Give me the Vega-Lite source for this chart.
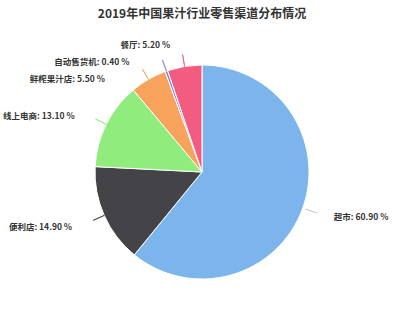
{
  "$schema": "https://vega.github.io/schema/vega-lite/v6.json",
  "width": 400,
  "height": 292,
  "autosize": "none",
  "padding": {"top": 26, "left": 2, "right": 0, "bottom": 0},
  "background": "white",
  "title": {
    "text": "2019年中国果汁行业零售渠道分布情况",
    "font": "Noto Sans CJK SC",
    "fontSize": 12,
    "fontWeight": "bold",
    "color": "#333333",
    "anchor": "middle",
    "frame": "group",
    "offset": 5
  },
  "data": {
    "values": [
      {"i": 1, "c": "超市", "v": 60.9, "label": "超市: 60.90 %"},
      {"i": 2, "c": "便利店", "v": 14.9, "label": "便利店: 14.90 %"},
      {"i": 3, "c": "线上电商", "v": 13.1, "label": "线上电商: 13.10 %"},
      {"i": 4, "c": "鲜榨果汁店", "v": 5.5, "label": "鲜榨果汁店: 5.50 %"},
      {"i": 5, "c": "自动售货机", "v": 0.4, "label": "自动售货机: 0.40 %"},
      {"i": 6, "c": "餐厅", "v": 5.2, "label": "餐厅: 5.20 %"}
    ]
  },
  "encoding": {
    "theta": {"field": "v", "type": "quantitative", "stack": true},
    "order": {"field": "i", "type": "ordinal"}
  },
  "layer": [
    {
      "mark": {"type": "arc", "outerRadius": 107, "stroke": "white", "strokeWidth": 1},
      "encoding": {
        "color": {
          "field": "c",
          "type": "nominal",
          "sort": null,
          "legend": null,
          "scale": {
            "domain": ["超市", "便利店", "线上电商", "鲜榨果汁店", "自动售货机", "餐厅"],
            "range": ["#7cb5ec", "#434348", "#90ed7d", "#f7a35c", "#8085e9", "#f15c80"]
          }
        }
      }
    },
    {
      "mark": {"type": "arc", "innerRadius": 107, "outerRadius": 119, "padAngle": 3.1416, "fill": "transparent", "strokeWidth": 1, "strokeOpacity": 0.8},
      "encoding": {
        "stroke": {
          "condition": {"test": "datum.c == '超市'", "value": "transparent"},
          "field": "c",
          "type": "nominal",
          "legend": null,
          "scale": {
            "domain": ["超市", "便利店", "线上电商", "鲜榨果汁店", "自动售货机", "餐厅"],
            "range": ["#7cb5ec", "#434348", "#90ed7d", "#f7a35c", "#8085e9", "#f15c80"]
          }
        }
      }
    },
    {
      "mark": {"type": "text", "radius": 116, "angle": 19.6, "align": "center", "baseline": "middle", "font": "DejaVu Sans", "fontSize": 14, "fill": "#a9c4de"},
      "encoding": {"text": {"condition": {"test": "datum.c == '超市'", "value": "—"}, "value": ""}}
    },
    {
      "mark": {"type": "text", "radius": 140, "align": "left", "baseline": "middle", "dy": -2, "font": "Noto Sans CJK SC", "fontSize": 8.5, "fontWeight": "bold", "fill": "#333333"},
      "encoding": {"text": {"condition": {"test": "datum.c == '超市'", "field": "label"}, "value": ""}}
    },
    {
      "mark": {"type": "text", "radius": 140, "align": "right", "baseline": "middle", "dx": -2, "dy": -2, "font": "Noto Sans CJK SC", "fontSize": 8.5, "fontWeight": "bold", "fill": "#333333"},
      "encoding": {"text": {"condition": {"test": "datum.c == '便利店'", "field": "label"}, "value": ""}}
    },
    {
      "mark": {"type": "text", "radius": 140, "align": "right", "baseline": "middle", "dx": -2, "dy": 6, "font": "Noto Sans CJK SC", "fontSize": 8.5, "fontWeight": "bold", "fill": "#333333"},
      "encoding": {"text": {"condition": {"test": "datum.c == '线上电商'", "field": "label"}, "value": ""}}
    },
    {
      "mark": {"type": "text", "radius": 140, "align": "right", "baseline": "middle", "dx": -27, "dy": 28, "font": "Noto Sans CJK SC", "fontSize": 8.5, "fontWeight": "bold", "fill": "#333333"},
      "encoding": {"text": {"condition": {"test": "datum.c == '鲜榨果汁店'", "field": "label"}, "value": ""}}
    },
    {
      "mark": {"type": "text", "radius": 140, "align": "right", "baseline": "middle", "dx": -26, "dy": 22, "font": "Noto Sans CJK SC", "fontSize": 8.5, "fontWeight": "bold", "fill": "#333333"},
      "encoding": {"text": {"condition": {"test": "datum.c == '自动售货机'", "field": "label"}, "value": ""}}
    },
    {
      "mark": {"type": "text", "radius": 140, "align": "right", "baseline": "middle", "dx": -9, "dy": 11, "font": "Noto Sans CJK SC", "fontSize": 8.5, "fontWeight": "bold", "fill": "#333333"},
      "encoding": {"text": {"condition": {"test": "datum.c == '餐厅'", "field": "label"}, "value": ""}}
    }
  ]
}
